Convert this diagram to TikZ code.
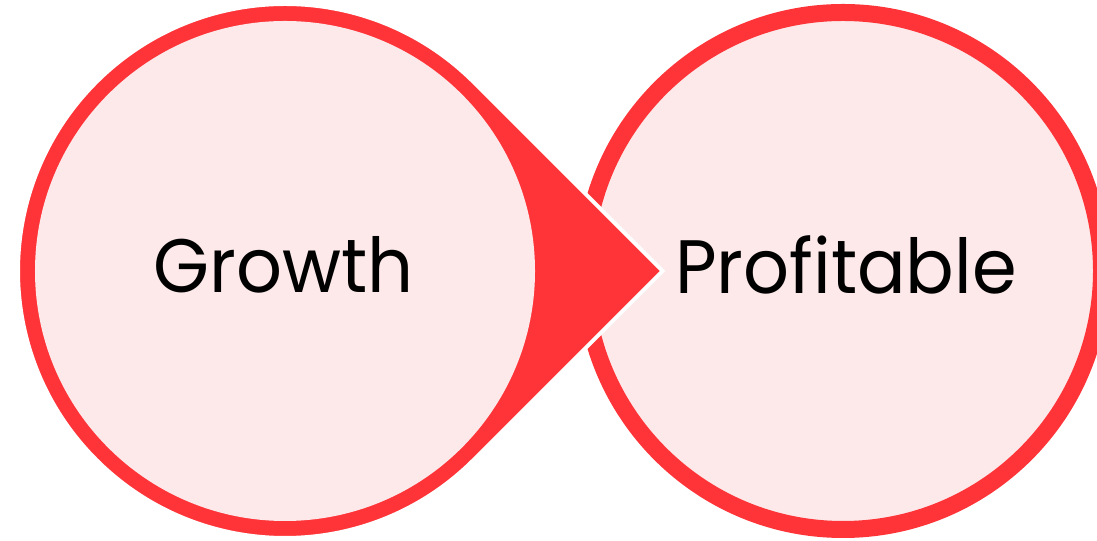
\documentclass[tikz,border=0pt]{standalone}
\usepackage{fontspec}
\setmainfont{Poppins}[FakeStretch=0.95]
\usetikzlibrary{calc}
\definecolor{ringred}{RGB}{255,52,56}
\definecolor{softpink}{RGB}{253,233,233}

\begin{document}
\begin{tikzpicture}[x=1bp,y=1bp]
 \tikzstyle{label} = [font=\fontsize{76}{90}\selectfont,text=black,inner sep=0pt];
 \tikzstyle{ringR} = [circle,draw=ringred,line width=17bp,fill=softpink,minimum size=517bp,inner sep=0pt];
 \tikzstyle{diskL} = [circle,fill=softpink,minimum size=500bp,inner sep=0pt];
 \tikzstyle{drop} = [fill=ringred,draw=white,line width=4bp,line join=miter];

 \useasboundingbox (0,0) rectangle (1097,541);

 % right circle first, the drop overlaps it
 \node[ringR,name=profit] at (843,270) {};

 % left circle as a drop pointing right
 \coordinate (gc) at (285,270);
 \draw[drop] ($(gc)+(377.6,0)$) -- ($(gc)+(45:267)$)
   arc[start angle=45,end angle=315,radius=267] -- cycle;
 \node[diskL,name=growth] at (gc) {};

 \node[label,name=growthtext] at ([xshift=-1bp,yshift=6bp]growth.center) {Growth};
 \node[label,name=profittext] at ([xshift=3bp,yshift=6bp]profit.center) {Profitable};

\end{tikzpicture}
\end{document}
